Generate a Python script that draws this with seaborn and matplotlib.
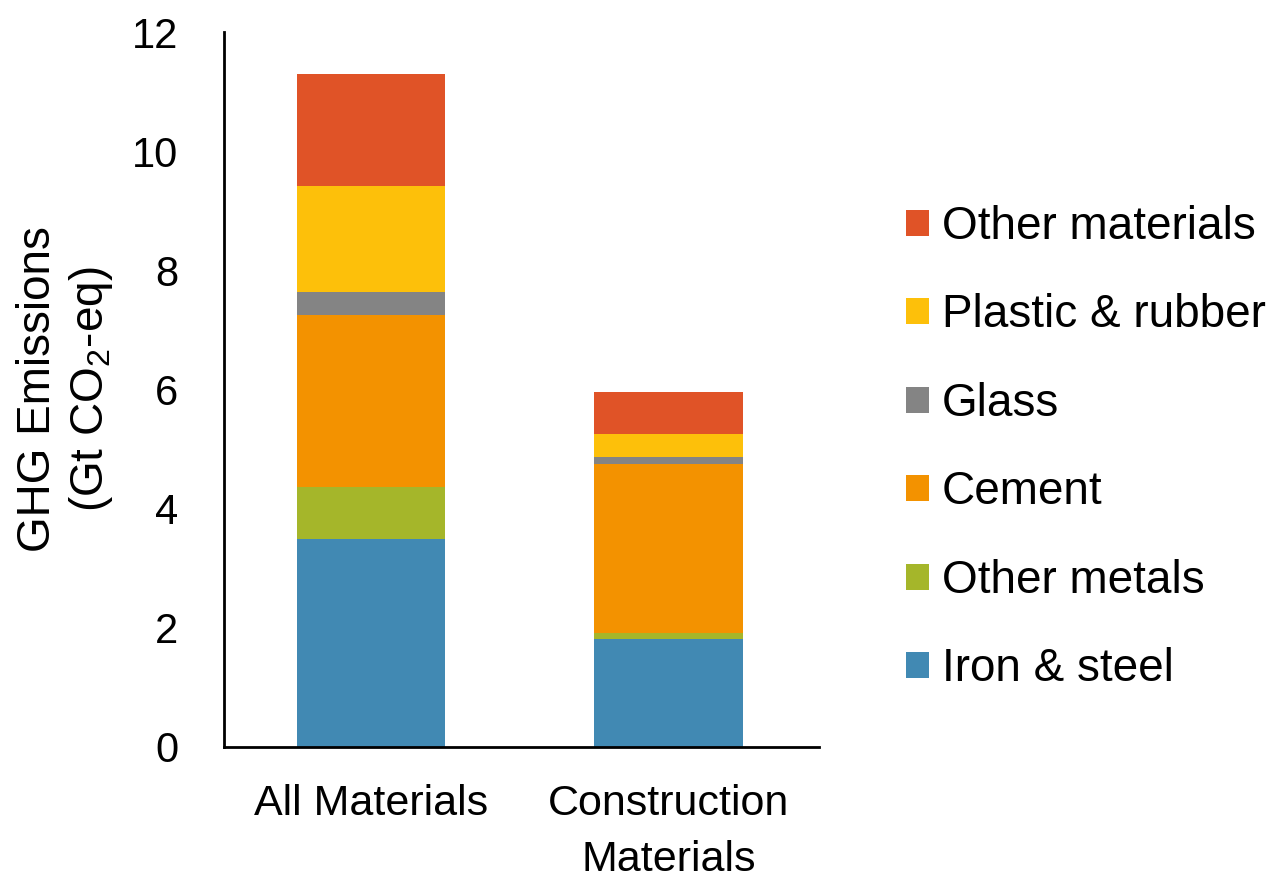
import matplotlib
matplotlib.use("Agg")
import matplotlib.pyplot as plt
from matplotlib.patches import Patch
import numpy as np
import pandas as pd
import seaborn as sns

# Emissions by material (Gt CO2-eq), stacked from the bottom up
groups = ["All Materials", "Construction\nMaterials"]
materials = ["Iron & steel", "Other metals", "Cement", "Glass",
             "Plastic & rubber", "Other materials"]
iron_steel = [3.48, 1.80]
other_metals = [0.88, 0.10]
cement = [2.89, 2.85]
glass = [0.39, 0.11]
plastic_rubber = [1.78, 0.39]
other_materials = [1.89, 0.71]

colors = ["#4189B3", "#A5B62A", "#F39200", "#848484", "#FDC00A", "#E05327"]

series = [iron_steel, other_metals, cement, glass, plastic_rubber, other_materials]

sns.set_theme(style="white")
plt.rcParams["font.family"] = ["Liberation Sans", "DejaVu Sans"]
plt.rcParams["mathtext.fontset"] = "custom"
plt.rcParams["mathtext.rm"] = "Liberation Sans"
plt.rcParams["mathtext.it"] = "Liberation Sans"
plt.rcParams["mathtext.default"] = "regular"
plt.rcParams["text.color"] = "black"
plt.rcParams["axes.labelcolor"] = "black"

fig = plt.figure(figsize=(12.78, 8.77), dpi=100)
ax = fig.add_axes([0.1753, 0.1488, 0.4655, 0.8142])

# Cumulative heights, drawn tallest first so each lower segment sits on top
cum = np.cumsum(np.array(series), axis=0)
for i in range(len(materials) - 1, -1, -1):
    df = pd.DataFrame({"group": groups, "value": cum[i]})
    sns.barplot(data=df, x="group", y="value", color=colors[i],
                saturation=1, width=0.5, ax=ax, errorbar=None,
                linewidth=0, edgecolor="none", zorder=1)

ax.set_xlim(-0.494, 1.506)
ax.set_ylim(0, 12)
ax.set_yticks(range(0, 13, 2))
ax.set_xlabel("")
ax.set_ylabel("GHG Emissions\n(Gt CO$_2$-eq)", fontsize=33, labelpad=12,
              linespacing=1.2)

for s in ["top", "right"]:
    ax.spines[s].set_visible(False)
for s in ["left", "bottom"]:
    ax.spines[s].set_color("black")
    ax.spines[s].set_linewidth(2.0)
    ax.spines[s].set_zorder(3)

ax.tick_params(axis="y", length=0, pad=33, labelsize=30, colors="black")
ax.tick_params(axis="x", length=0, pad=27, labelsize=31, colors="black")
for lbl in ax.get_xticklabels():
    lbl.set_linespacing(1.5)

handles = [Patch(facecolor=colors[i], edgecolor="none", label=materials[i])
           for i in range(len(materials) - 1, -1, -1)]
fig.legend(handles=handles, loc="center left",
           bbox_to_anchor=(0.6945, 0.489), frameon=False, fontsize=33,
           handlelength=0.5, handleheight=0.5, handletextpad=0.28,
           labelspacing=0.97, borderaxespad=0)

fig.savefig("out.png", dpi=100)
